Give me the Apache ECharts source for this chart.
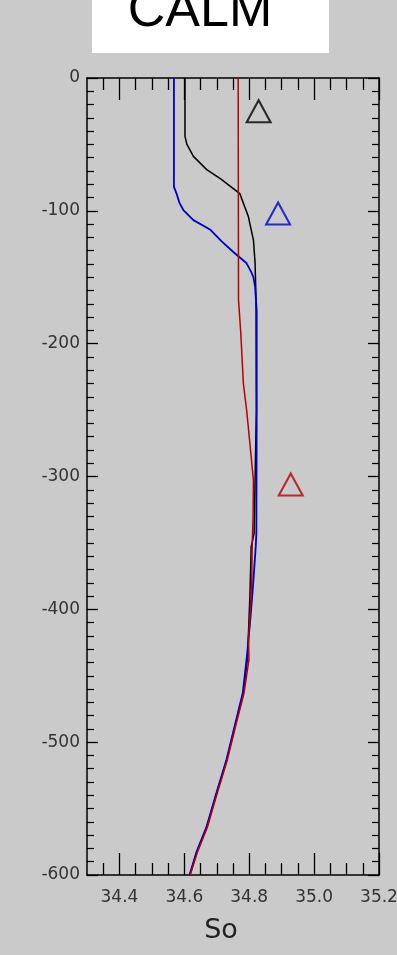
<!DOCTYPE html>
<html>
<head>
<meta charset="utf-8">
<script src="https://cdn.jsdelivr.net/npm/echarts@6/dist/echarts.min.js"></script>
<style>
html,body{margin:0;padding:0;background:#cacaca;}
#main{width:397px;height:955px;}
</style>
</head>
<body>
<div id="main"></div>
<script>
// profils de salinite (So) en fonction de la profondeur
var blackDepth=[0,-44,-50,-59,-69,-76,-87,-91,-104,-122,-139,-167,-250,-343,-353,-391,-416,-438,-463,-488,-513,-538,-564,-583,-600];
var blackSal=[34.602,34.602,34.608,34.628,34.669,34.712,34.771,34.777,34.797,34.813,34.818,34.821,34.822,34.815,34.806,34.802,34.798,34.794,34.782,34.756,34.731,34.700,34.669,34.638,34.617];

var blueDepth=[0,-82,-87,-94,-99.4,-107,-114,-123,-131,-139.5,-146,-150,-157,-175,-250,-343,-353,-378,-403,-433,-463,-488,-513,-538,-564,-583,-600];
var blueSal=[34.568,34.568,34.576,34.585,34.597,34.628,34.679,34.715,34.751,34.792,34.806,34.813,34.818,34.823,34.823,34.822,34.820,34.813,34.805,34.794,34.780,34.755,34.730,34.699,34.668,34.637,34.616];

var redDepth=[0,-167,-192,-230,-250,-275,-303,-330,-353,-378,-403,-423,-438,-463,-488,-513,-538,-564,-583,-600];
var redSal=[34.766,34.767,34.774,34.782,34.792,34.802,34.813,34.812,34.809,34.808,34.803,34.798,34.799,34.784,34.758,34.733,34.702,34.671,34.640,34.618];

// triangles (noir, bleu, rouge)
var triSal=[34.829,34.889,34.928];
var triDepth=[-25,-102,-306];

var xMajor=[34.4,34.6,34.8,35.0,35.2];
var xMinor=[34.35,34.45,34.5,34.55,34.65,34.7,34.75,34.85,34.9,34.95,35.05,35.1,35.15];

function paires(sal,dep){
	var d=[];
	for (var i=0;i<sal.length;i++){
		d.push([sal[i],dep[i]]);
	}
	return d;
}

var myChart=echarts.init(document.getElementById('main'));
var trait={color:'#000',width:1.5};
function axeX(pos,vals,len,lab,ligne){
	return {
		type:'value',position:pos,min:34.3,max:35.2,
		axisLine:{show:ligne,onZero:false,lineStyle:trait},
		axisTick:{show:true,inside:true,length:len,customValues:vals,lineStyle:{color:'#000',width:1.3}},
		axisLabel:{show:lab,customValues:vals,margin:14,fontSize:17,fontFamily:'DejaVu Sans',color:'#333',
			formatter:function(v){return v.toFixed(1);}},
		splitLine:{show:false}
	};
}
function axeY(pos,lab){
	return {
		type:'value',position:pos,min:-600,max:0,interval:100,
		axisLine:{show:true,onZero:false,lineStyle:trait},
		axisTick:{show:true,inside:true,length:11,lineStyle:{color:'#000',width:1.3}},
		minorTick:{show:true,splitNumber:10,length:7,lineStyle:{color:'#000',width:1.2}},
		axisLabel:{show:lab,margin:7,fontSize:17,fontFamily:'DejaVu Sans',color:'#333'},
		splitLine:{show:false}
	};
}
var option={
	backgroundColor:'#cacaca',
	animation:false,
	grid:{left:87,right:18,top:78,bottom:80,containLabel:false,outerBoundsMode:'none'},
	xAxis:[
		axeX('bottom',xMajor,22,true,true),
		axeX('bottom',xMinor,12,false,false),
		axeX('top',xMajor,22,false,true),
		axeX('top',xMinor,12,false,false)
	],
	yAxis:[axeY('left',true),axeY('right',false)],
	graphic:[
		{type:'rect',shape:{x:92,y:0,width:237,height:53},style:{fill:'#fff'}},
		{type:'text',x:200,y:12,style:{text:'CALM',fontSize:52,fontFamily:'Liberation Sans',fill:'#000',align:'center',verticalAlign:'middle'}},
		{type:'text',x:221,y:931,style:{text:'So',fontSize:27,fontFamily:'DejaVu Sans',fill:'#222',align:'center',verticalAlign:'middle'}}
	],
	series:[
		{type:'line',name:'noir',data:paires(blackSal,blackDepth),showSymbol:false,lineStyle:{color:'#000',width:1.5}},
		{type:'line',name:'bleu',data:paires(blueSal,blueDepth),showSymbol:false,lineStyle:{color:'#0000cc',width:1.8}},
		{type:'line',name:'rouge',data:paires(redSal,redDepth),showSymbol:false,lineStyle:{color:'#b80000',width:1.5}},
		{type:'scatter',symbol:'triangle',symbolSize:[24,22],data:[[triSal[0],triDepth[0]]],itemStyle:{color:'rgba(0,0,0,0)',borderColor:'#000',borderWidth:2}},
		{type:'scatter',symbol:'triangle',symbolSize:[24,22],data:[[triSal[1],triDepth[1]]],itemStyle:{color:'rgba(0,0,0,0)',borderColor:'#0000cc',borderWidth:2}},
		{type:'scatter',symbol:'triangle',symbolSize:[24,22],data:[[triSal[2],triDepth[2]]],itemStyle:{color:'rgba(0,0,0,0)',borderColor:'#b80000',borderWidth:2}}
	]
};
myChart.setOption(option);
</script>
</body>
</html>
